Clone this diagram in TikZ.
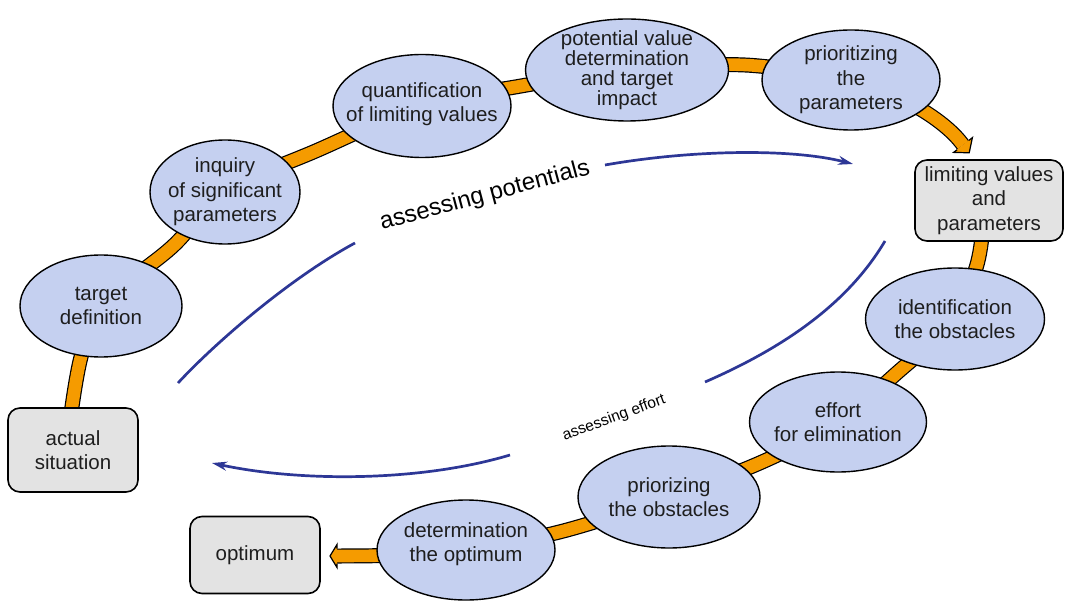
\documentclass[tikz,border=0pt]{standalone}
\usepackage{fontspec}
\setmainfont{Liberation Sans}
\usetikzlibrary{shapes.geometric,arrows.meta}

\definecolor{bandorange}{RGB}{245,155,0}
\definecolor{stepblue}{RGB}{197,208,240}
\definecolor{boxgray}{RGB}{227,227,227}
\definecolor{cycleblue}{RGB}{45,55,150}
\definecolor{inktext}{RGB}{30,30,30}

% centre lines of the two orange process bands
\newcommand\upperbandpath{plot[smooth,tension=0.6] coordinates {(71,414) (81,357) (100,306) (172,247) (225,192) (318,150) (422,106) (521,86) (627,70) (745,65) (851,80)} .. controls (900,93) and (945,120) .. (963,145)}
\newcommand\lowerbandpath{plot[smooth,tension=0.6] coordinates {(982,236) (976,268) (955,319) (898,372) (838,422) (762,462) (669,497) (567,530) (466,552)} .. controls (420,555) and (380,556) .. (337,556)}

\begin{document}
\begin{tikzpicture}[x=1pt,y=-1pt,
  stage/.style={ellipse, draw=black, line width=1.4pt, fill=stepblue, inner sep=0pt},
  stagetext/.style={align=center, text=inktext, inner sep=0pt, font=\fontsize{20.5}{24.5}\selectfont},
  statebox/.style={rectangle, rounded corners=12pt, draw=black, line width=1.6pt, fill=boxgray,
    inner sep=0pt, align=center, text=inktext, font=\fontsize{20.5}{24.5}\selectfont},
  bandout/.style={draw=black, line width=15pt},
  bandin/.style={draw=bandorange, line width=12.6pt},
  bandhead/.style={fill=bandorange},
  headedge/.style={draw=black, line width=1.2pt, line join=miter},
  cyclearc/.style={draw=cycleblue, line width=2.7pt},
  cyclearrow/.style={cyclearc, -{Stealth[length=15pt,width=9pt]}}
]
\useasboundingbox (0,0) rectangle (1067,601);

% orange process bands
\draw[bandout] \upperbandpath;
\draw[bandin] \upperbandpath;
\fill[bandhead] (953.6,152.4) -- (969.2,152.8) -- (972.4,137.6) -- cycle;
\draw[headedge] (957.2,149.7) -- (953.6,152.4) -- (969.2,152.8) -- (972.4,137.6) -- (968.9,140.4);

\draw[bandout] \lowerbandpath;
\draw[bandin] \lowerbandpath;
\fill[bandhead] (337,544.5) -- (330,556) -- (337,567.5) -- cycle;
\draw[headedge] (337,548.5) -- (337,544.5) -- (330,556) -- (337,567.5) -- (337,563.5);

% blue cycle arcs
\coordinate (pa1) at (178,383);
\coordinate (pa2) at (355,243);
\coordinate (pb1) at (605,165);
\coordinate (pb2) at (853,164);
\coordinate (ea1) at (885,241);
\coordinate (ea2) at (705,382);
\coordinate (eb1) at (510,455);
\coordinate (eb2) at (212,463);
\draw[cyclearc] (pa1) .. controls (215,343) and (290,278) .. (pa2);
\draw[cyclearrow] (pb1) .. controls (690,150) and (790,148) .. (pb2);
\draw[cyclearc] (ea1) .. controls (850,300) and (790,345) .. (ea2);
\draw[cyclearrow] (eb1) .. controls (420,482) and (300,482) .. (eb2);

\node[rotate=15, text=black, font=\fontsize{24}{28}\selectfont] (potlabel) at (485,196) {assessing potentials};
\node[rotate=20, text=black, font=\fontsize{15.5}{18}\selectfont] (efflabel) at (614,418) {assessing effort};

% states
\node[statebox, minimum width=130pt, minimum height=84pt] (actual) at (73,450) {actual\\situation};
\node[statebox, minimum width=148pt, minimum height=81pt] (limits) at (989,200.5) {limiting values\\and\\parameters};
\node[statebox, minimum width=130pt, minimum height=77pt] (optimum) at (255,555) {optimum};

% process stages
\node[stage, minimum width=162pt, minimum height=102pt,
  label={[stagetext]center:target\\definition}] (target) at (101,306) {};
\node[stage, minimum width=150pt, minimum height=104pt,
  label={[stagetext]center:inquiry\\of significant\\parameters}] (inquiry) at (225,192) {};
\node[stage, minimum width=178pt, minimum height=103pt,
  label={[stagetext,yshift=2pt]center:quantification\\of limiting values}] (quant) at (422,106) {};
\node[stage, minimum width=203pt, minimum height=102pt,
  label={[stagetext,font=\fontsize{20.5}{20}\selectfont]center:potential value\\determination\\and target\\impact}] (potential) at (627,70) {};
\node[stage, minimum width=178pt, minimum height=100pt,
  label={[stagetext]center:prioritizing\\the\\parameters}] (prio) at (851,80) {};
\node[stage, minimum width=179pt, minimum height=102pt,
  label={[stagetext]center:identification\\the obstacles}] (ident) at (955,319) {};
\node[stage, minimum width=177pt, minimum height=100pt,
  label={[stagetext]center:effort\\for elimination}] (effort) at (838,422) {};
\node[stage, minimum width=182pt, minimum height=102pt,
  label={[stagetext]center:priorizing\\the obstacles}] (priobst) at (669,497) {};
\node[stage, minimum width=178pt, minimum height=100pt,
  label={[stagetext,yshift=6pt]center:determination\\the optimum}] (determ) at (466,550) {};
\end{tikzpicture}
\end{document}
